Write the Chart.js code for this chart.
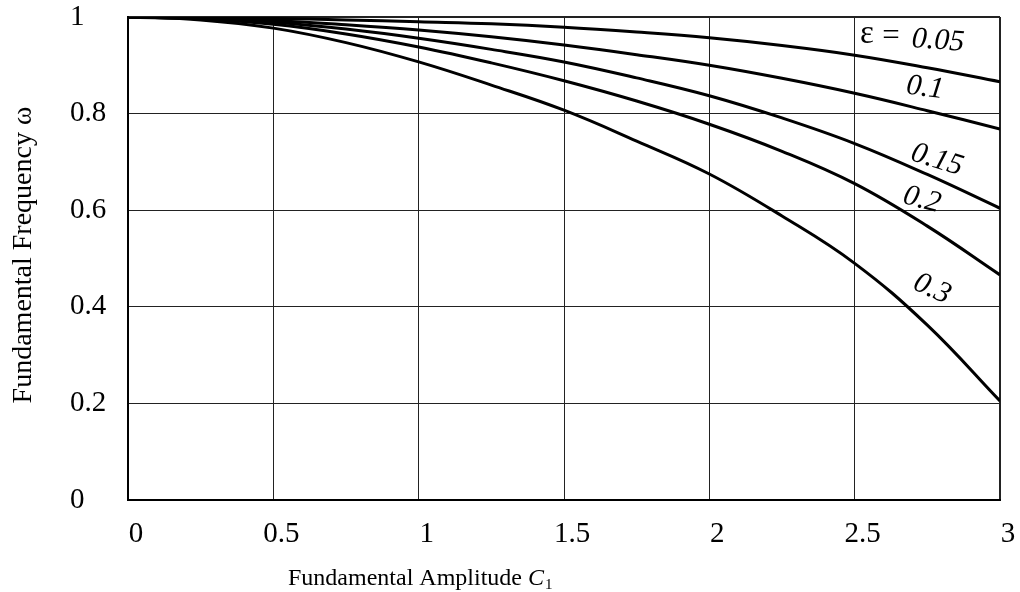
<!DOCTYPE html>
<html>
<head>
<meta charset="utf-8">
<script src="https://cdn.jsdelivr.net/npm/chart.js@4"></script>
<style>
  html, body { margin: 0; padding: 0; background: #fff; }
  #wrap { width: 1020px; height: 592px; }
</style>
</head>
<body>
<div id="wrap"><canvas id="myChart" width="1020" height="592"></canvas></div>
<script>
// amplitude C1 and fundamental frequency for each epsilon
var amplitude = [0, 0.25, 0.5, 0.75, 1, 1.25, 1.5, 1.75, 2, 2.25, 2.5, 2.75, 3];
var omegaEps005 = [1, 0.999, 0.997, 0.994, 0.99, 0.986, 0.979, 0.969, 0.957, 0.941, 0.921, 0.895, 0.866];
var omegaEps01  = [1, 0.998, 0.993, 0.984, 0.973, 0.959, 0.942, 0.922, 0.9, 0.873, 0.842, 0.806, 0.768];
var omegaEps015 = [1, 0.997, 0.989, 0.975, 0.956, 0.933, 0.907, 0.874, 0.837, 0.791, 0.738, 0.674, 0.604];
var omegaEps02  = [1, 0.996, 0.985, 0.965, 0.938, 0.905, 0.868, 0.826, 0.778, 0.722, 0.655, 0.567, 0.466];
var omegaEps03  = [1, 0.994, 0.977, 0.947, 0.907, 0.859, 0.807, 0.743, 0.675, 0.588, 0.49, 0.362, 0.205];
var epsLabels = ['0.05', '0.1', '0.15', '0.2', '0.3'];

var serif = '"Liberation Serif", "DejaVu Serif", serif';

function pts(ys) {
    return amplitude.map(function (x, i) { return { x: x, y: ys[i] }; });
}

function curve(label, ys) {
    return {
        label: label,
        data: pts(ys),
        borderColor: '#000',
        borderWidth: 3,
        pointRadius: 0,
        fill: false,
        tension: 0.4
    };
}

function plain(v) { return String(+Number(v).toFixed(2)); }

// axis titles and curve labels drawn on the canvas
var textPlugin = {
    id: 'texts',
    afterDraw: function (chart) {
        var ctx = chart.ctx;
        ctx.save();
        ctx.fillStyle = '#000';

        // y title
        ctx.save();
        ctx.translate(24, 255);
        ctx.rotate(-Math.PI / 2);
        ctx.font = '28px ' + serif;
        ctx.textAlign = 'center';
        ctx.textBaseline = 'middle';
        ctx.fillText('Fundamental Frequency \u03c9', 0, 0);
        ctx.restore();

        // x title
        ctx.font = '24px ' + serif;
        ctx.textAlign = 'left';
        ctx.textBaseline = 'alphabetic';
        var t = 'Fundamental Amplitude ';
        ctx.fillText(t, 288, 585);
        var w = ctx.measureText(t).width;
        ctx.font = 'italic 24px ' + serif;
        ctx.fillText('C', 288 + w, 585);
        var wc = ctx.measureText('C').width;
        ctx.font = '15px ' + serif;
        ctx.fillText('1', 288 + w + wc + 1, 589);

        // curve labels
        ctx.textBaseline = 'middle';
        ctx.textAlign = 'center';
        ctx.font = '33px ' + serif;
        ctx.fillText('\u03b5', 867, 34);
        ctx.font = '31px ' + serif;
        ctx.fillText('=', 891, 37);
        var spots = [
            [938, 41, 0.07],
            [925, 88, 0.12],
            [937, 160, 0.3],
            [922, 200, 0.26],
            [932, 289, 0.42]
        ];
        ctx.font = 'italic 30px ' + serif;
        spots.forEach(function (s, i) {
            ctx.save();
            ctx.translate(s[0], s[1]);
            ctx.rotate(s[2]);
            ctx.fillText(epsLabels[i], 0, 0);
            ctx.restore();
        });
        ctx.restore();
    }
};

var ctx = document.getElementById('myChart').getContext('2d');

var chart = new Chart(ctx, {
    type: 'line',
    data: {
        datasets: [
            curve('0.05', omegaEps005),
            curve('0.1', omegaEps01),
            curve('0.15', omegaEps015),
            curve('0.2', omegaEps02),
            curve('0.3', omegaEps03)
        ]
    },
    plugins: [textPlugin],
    options: {
        responsive: false,
        animation: false,
        layout: { padding: { left: 70, right: 20, top: 17, bottom: 0 } },
        plugins: {
            legend: { display: false },
            tooltip: { enabled: false }
        },
        scales: {
            x: {
                type: 'linear',
                min: 0,
                max: 3,
                afterFit: function (scale) {
                    scale.height = 92;
                    scale.paddingLeft = 0;
                    scale.paddingRight = 0;
                },
                ticks: {
                    stepSize: 0.5,
                    padding: 17,
                    labelOffset: 8,
                    color: '#000',
                    callback: plain,
                    font: { family: serif, size: 29 }
                },
                grid: {
                    color: '#222',
                    lineWidth: function (c) { return c.index === 6 ? 2 : 1; },
                    drawTicks: false
                },
                border: { color: '#000', width: 2 }
            },
            y: {
                min: 0,
                max: 1,
                afterFit: function (scale) {
                    scale.width = 58;
                    scale.paddingTop = 0;
                    scale.paddingBottom = 0;
                },
                ticks: {
                    stepSize: 0.2,
                    crossAlign: 'far',
                    color: '#000',
                    callback: plain,
                    font: { family: serif, size: 29 }
                },
                grid: {
                    color: '#222',
                    lineWidth: function (c) { return c.index === 5 ? 2 : 1; },
                    drawTicks: false
                },
                border: { color: '#000', width: 2 }
            }
        }
    }
});
</script>
</body>
</html>
